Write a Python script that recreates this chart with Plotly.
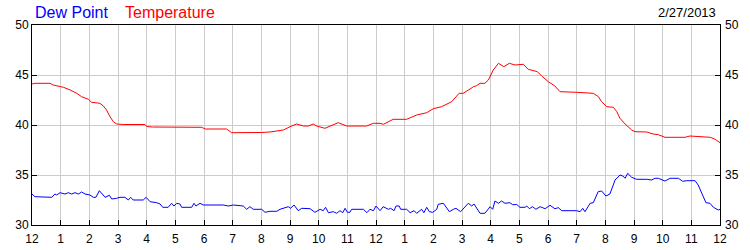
import plotly.graph_objects as go

# Hours since midnight (0..24) and readings
temp_hours = [0, 0.1, 0.63, 0.74, 1.0, 1.1, 1.33, 1.56, 1.73, 1.97, 2.08, 2.37, 2.49, 2.6, 2.72, 2.84, 2.95,
              3.2, 3.94, 4.0, 4.2, 5.92, 6.04, 6.79, 6.96, 7.6, 8.0, 8.3, 8.5, 8.77, 9.0, 9.23, 9.47, 9.64,
              9.81, 9.93, 10.22, 10.39, 10.68, 10.98, 11.67, 11.91, 12.14, 12.26, 12.6, 13.07, 13.42, 13.77,
              14.0, 14.29, 14.64, 14.9, 15.04, 15.28, 15.4, 15.51, 15.63, 15.8, 15.92, 16.09, 16.27, 16.46,
              16.65, 16.85, 16.96, 17.14, 17.31, 17.49, 17.63, 17.78, 18.01, 18.24, 18.42, 19.0, 19.58,
              19.76, 19.87, 20.05, 20.28, 20.4, 20.51, 20.69, 20.92, 21.03, 21.44, 21.67, 21.85, 22.08,
              22.78, 22.95, 23.25, 23.66, 23.83, 24.0]
temp_values = [44.1, 44.17, 44.17, 44.0, 43.83, 43.77, 43.5, 43.17, 42.83, 42.57, 42.27, 42.17, 41.9, 41.5,
               40.83, 40.33, 40.1, 40.05, 40.05, 39.85, 39.8, 39.77, 39.6, 39.6, 39.23, 39.2, 39.25, 39.3,
               39.4, 39.5, 39.83, 40.1, 39.9, 39.9, 40.1, 39.9, 39.67, 39.9, 40.23, 39.9, 39.9, 40.17, 40.17,
               40.07, 40.57, 40.57, 41.0, 41.23, 41.63, 41.83, 42.33, 43.17, 43.17, 43.6, 43.83, 43.93, 44.17,
               44.17, 44.5, 45.5, 46.17, 45.83, 46.17, 46.0, 46.03, 46.07, 45.57, 45.43, 45.33, 44.9, 44.33,
               43.9, 43.33, 43.27, 43.17, 42.83, 42.33, 41.83, 41.77, 41.33, 40.67, 40.1, 39.5, 39.33, 39.3,
               39.1, 39.03, 38.77, 38.77, 38.9, 38.83, 38.77, 38.57, 38.23]

dew_hours = [0, 0.1, 0.69, 0.8, 0.86, 0.98, 1.15, 1.27, 1.38, 1.5, 1.62, 1.73, 1.85, 2.02, 2.14, 2.23, 2.35,
             2.55, 2.7, 2.78, 2.95, 3.07, 3.24, 3.36, 3.44, 3.53, 3.88, 3.98, 4.12, 4.35, 4.47, 4.56, 4.75,
             4.87, 4.95, 5.05, 5.16, 5.22, 5.57, 5.65, 5.72, 5.86, 5.98, 6.67, 6.85, 7.02, 7.37, 7.49, 7.6,
             7.72, 8.01, 8.13, 8.3, 8.54, 8.65, 8.83, 8.94, 9.02, 9.14, 9.29, 9.41, 9.7, 9.87, 10.05, 10.16,
             10.24, 10.34, 10.51, 10.63, 10.74, 10.84, 10.92, 11.0, 11.09, 11.15, 11.56, 11.68, 11.79, 11.91,
             12.0, 12.14, 12.25, 12.43, 12.51, 12.63, 12.7, 12.81, 12.86, 13.07, 13.19, 13.33, 13.42, 13.59,
             13.67, 13.77, 13.86, 13.98, 14.12, 14.17, 14.35, 14.44, 14.56, 14.7, 14.79, 14.95, 15.1, 15.22,
             15.34, 15.42, 15.63, 15.8, 15.98, 16.07, 16.15, 16.27, 16.38, 16.5, 16.67, 16.77, 16.91, 17.02,
             17.2, 17.26, 17.35, 17.46, 17.58, 17.72, 17.9, 18.07, 18.24, 18.36, 18.48, 19.0, 19.12, 19.21,
             19.29, 19.47, 19.58, 19.75, 19.87, 20.02, 20.16, 20.34, 20.51, 20.61, 20.69, 20.78, 20.92,
             21.09, 21.44, 21.62, 21.73, 21.85, 22.08, 22.26, 22.55, 22.7, 22.84, 23.13, 23.24, 23.36,
             23.51, 23.65, 23.77, 23.94, 24.0]
dew_values = [33.1, 32.83, 32.77, 33.1, 33.0, 33.23, 33.1, 33.23, 33.1, 33.23, 33.1, 33.3, 33.1, 33.0, 32.77,
              32.77, 33.43, 32.77, 32.97, 32.6, 32.67, 32.77, 32.77, 32.5, 32.77, 32.5, 32.5, 32.77, 32.33,
              32.23, 32.1, 31.77, 31.77, 32.17, 31.9, 32.17, 32.1, 31.77, 31.77, 32.17, 31.9, 32.17, 32.0,
              32.0, 31.9, 32.0, 31.9, 31.57, 31.83, 31.57, 31.57, 31.27, 31.37, 31.37, 31.57, 31.73, 31.83,
              31.67, 32.0, 31.43, 31.67, 31.63, 31.27, 31.57, 31.43, 31.77, 31.23, 31.33, 31.17, 31.43, 31.23,
              31.67, 31.27, 31.27, 31.57, 31.57, 31.23, 31.57, 31.43, 31.9, 31.43, 31.83, 31.57, 31.67, 31.43,
              31.9, 31.9, 31.57, 31.57, 31.23, 31.43, 31.17, 31.57, 31.23, 31.77, 31.33, 31.27, 31.57, 32.07,
              32.17, 31.83, 31.33, 31.57, 31.67, 31.33, 31.83, 32.17, 31.9, 32.1, 31.17, 31.17, 31.83, 31.57,
              32.4, 32.17, 32.4, 32.17, 32.23, 32.03, 32.05, 31.77, 31.77, 31.9, 31.63, 31.83, 31.57, 31.83,
              31.63, 31.97, 31.63, 31.73, 31.43, 31.43, 31.33, 31.67, 31.33, 32.17, 32.23, 33.33, 33.4, 32.9,
              33.1, 34.5, 35.0, 34.9, 34.67, 35.17, 34.77, 34.57, 34.57, 34.5, 34.67, 34.67, 34.4, 34.67,
              34.67, 34.37, 34.43, 34.43, 34.0, 33.17, 32.23, 32.17, 31.77, 31.5, 31.57]

tick_hours = list(range(25))
tick_labels = ["12", "1", "2", "3", "4", "5", "6", "7", "8", "9", "10", "11",
               "12", "1", "2", "3", "4", "5", "6", "7", "8", "9", "10", "11", "12"]
y_ticks = [30, 35, 40, 45, 50]

FONT = "Liberation Sans, Arial, sans-serif"

fig = go.Figure()
fig.add_trace(go.Scatter(x=temp_hours, y=temp_values, mode="lines", name="Temperature",
                         line=dict(color="#FF0000", width=1)))
fig.add_trace(go.Scatter(x=dew_hours, y=dew_values, mode="lines", name="Dew Point",
                         line=dict(color="#0000FF", width=1)))

fig.update_layout(
    width=750, height=250,
    margin=dict(l=32, r=30, t=25, b=25, autoexpand=False),
    paper_bgcolor="white", plot_bgcolor="white",
    showlegend=False,
    font=dict(family=FONT, size=12, color="black"),
    xaxis=dict(range=[0, 24], tickvals=tick_hours, ticktext=tick_labels,
               ticks="inside", ticklen=5, tickcolor="black", tickwidth=1,
               showgrid=True, gridcolor="#cccccc", gridwidth=1,
               showline=True, linecolor="black", linewidth=1, mirror=True,
               zeroline=False, automargin=False, ticklabelstandoff=3,
               tickfont=dict(size=12, color="black")),
    yaxis=dict(range=[30, 50], tickvals=y_ticks,
               ticks="inside", ticklen=5, tickcolor="black", tickwidth=1,
               showgrid=True, gridcolor="#cccccc", gridwidth=1,
               showline=True, linecolor="black", linewidth=1, mirror=True,
               zeroline=False, automargin=False,
               tickfont=dict(size=12, color="black")),
    yaxis2=dict(range=[30, 50], tickvals=y_ticks, overlaying="y", side="right",
                ticks="inside", ticklen=5, tickcolor="black", tickwidth=1,
                showgrid=False, showline=False, zeroline=False, automargin=False,
                ticklabelstandoff=4,
                tickfont=dict(size=12, color="black")),
    annotations=[
        dict(text="Dew Point", x=33, y=13, xref="paper", yref="paper", showarrow=False,
             font=dict(color="#0000FF", size=16, family=FONT), xanchor="left", yanchor="middle"),
        dict(text="Temperature", x=123, y=13, xref="paper", yref="paper", showarrow=False,
             font=dict(color="#FF0000", size=16, family=FONT), xanchor="left", yanchor="middle"),
        dict(text="2/27/2013", x=718, y=13, xref="paper", yref="paper", showarrow=False,
             font=dict(color="black", size=13, family=FONT), xanchor="right", yanchor="middle"),
    ],
)

# Place header annotations in pixel terms relative to the plot area
plot_w = 750 - 32 - 30
plot_h = 250 - 25 - 25
for a in fig.layout.annotations:
    a.x = (a.x - 32) / plot_w
    a.y = (250 - 25 - a.y) / plot_h

# dummy trace to anchor right-hand axis labels
fig.add_trace(go.Scatter(x=[None], y=[None], yaxis="y2", showlegend=False, hoverinfo="skip"))

fig.write_html("out.html")
